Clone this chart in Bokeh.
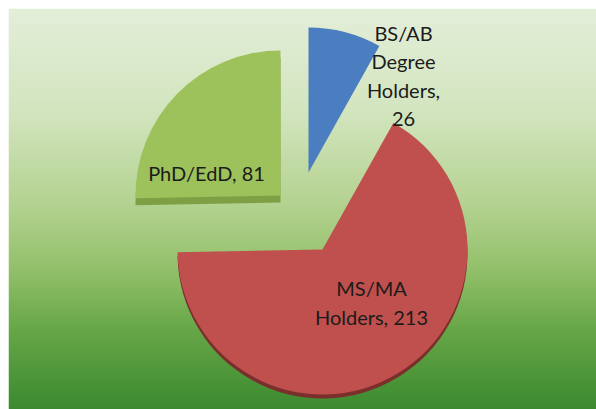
import numpy as np
from bokeh.plotting import figure
from bokeh.models import Range1d
from bokeh.embed import file_html
from bokeh.resources import INLINE
from bokeh.core.properties import value

# ---- data ----
categories = ["BS/AB Degree Holders", "MS/MA Holders", "PhD/EdD"]
counts = [26, 213, 81]
label_texts = ["BS/AB\nDegree\nHolders,\n26", "MS/MA\nHolders, 213", "PhD/EdD, 81"]

# ---- layout / style (pixel-like data units, y up) ----
W, H = 596, 409
colors = ["#4b7ec0", "#c0504d", "#9dc25b"]
side_colors = ["#3a6296", "#7a2f2d", "#7f9f45"]
side_depth = [0, 4, 7]
centers_x = [308, 322, 280]
centers_y = [H - 172, H - 249, H - 195]
radius = 145
label_x = [403, 371, 206]
label_y = [H - 75, H - 302, H - 172]

p = figure(width=W, height=H, output_backend="svg", toolbar_location=None,
           x_range=Range1d(8, W), y_range=Range1d(0, H - 8),
           min_border_left=8, min_border_top=8, min_border_right=0, min_border_bottom=0,
           border_fill_color="white", outline_line_color=None)
p.axis.visible = False
p.grid.visible = False

# background gradient (vertical)
stops_y = np.array([8, 110, 200, 270, 330, 409], dtype=float)  # screen y
stops_c = np.array([[0xe3, 0xee, 0xd9], [0xd3, 0xe5, 0xbf], [0xb5, 0xd3, 0x92],
                    [0x92, 0xc0, 0x6a], [0x66, 0xa6, 0x47], [0x3b, 0x8a, 0x2f]], dtype=float)
rows = H - 8
img = np.zeros((rows, 2), dtype=np.uint32)
view = img.view(dtype=np.uint8).reshape((rows, 2, 4))
for i in range(rows):
    sy = H - (i + 0.5)
    for k in range(3):
        view[i, :, k] = int(round(np.interp(sy, stops_y, stops_c[:, k])))
    view[i, :, 3] = 255
p.image_rgba(image=[img], x=8, y=0, dw=W - 8, dh=H - 8)

total = float(sum(counts))
cum = np.cumsum([0] + counts)
starts = [np.pi / 2 - cum[i + 1] / total * 2 * np.pi for i in range(len(counts))]
ends = [np.pi / 2 - cum[i] / total * 2 * np.pi for i in range(len(counts))]

for i in range(len(counts)):
    if side_depth[i] > 0:
        p.wedge(x=centers_x[i], y=centers_y[i] - side_depth[i], radius=radius,
                start_angle=starts[i], end_angle=ends[i],
                fill_color=side_colors[i], line_color=None)
for i in range(len(counts)):
    p.wedge(x=centers_x[i], y=centers_y[i], radius=radius,
            start_angle=starts[i], end_angle=ends[i],
            fill_color=colors[i], line_color=None)

p.text(x=label_x, y=label_y, text=label_texts, text_font=value("Lato"),
       text_font_size="20px", text_color="#1b1b1b", text_align="center",
       text_baseline="middle", text_line_height=1.17)

open("out.html", "w").write(file_html(p, INLINE))
